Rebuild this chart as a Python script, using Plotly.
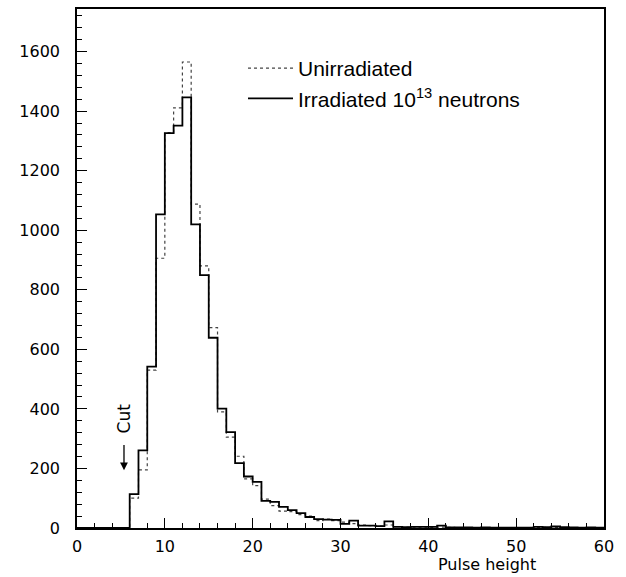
import plotly.graph_objects as go

# bin lower edges (width 1) from 0 to 59
bin_edges = list(range(0, 61))

irradiated = [0, 0, 0, 0, 0, 0, 114, 261, 542, 1053,
              1326, 1351, 1446, 1020, 849, 639, 401, 322, 218, 173,
              155, 91, 88, 71, 60, 50, 37, 30, 28, 27,
              14, 25, 8, 8, 6, 22, 4, 3, 4, 4,
              4, 8, 2, 2, 2, 1, 2, 1, 1, 1,
              1, 1, 4, 3, 5, 3, 2, 1, 2, 1]

unirradiated = [0, 0, 0, 0, 0, 0, 100, 195, 530, 906,
                1328, 1411, 1565, 1088, 880, 673, 390, 305, 241, 165,
                142, 97, 75, 57, 55, 45, 40, 25, 30, 25,
                20, 15, 10, 8, 6, 10, 5, 3, 3, 3,
                2, 3, 2, 1, 1, 1, 1, 1, 1, 1,
                1, 1, 2, 2, 2, 1, 1, 1, 1, 1]

x_ticks = [0, 10, 20, 30, 40, 50, 60]
y_ticks = [0, 200, 400, 600, 800, 1000, 1200, 1400, 1600]

FONT = "Liberation Sans, Arial, sans-serif"
TICKFONT = "DejaVu Sans, sans-serif"

fig = go.Figure()
fig.add_trace(go.Scatter(
    x=bin_edges, y=unirradiated + [unirradiated[-1]],
    mode="lines", line=dict(shape="hv", color="#444444", width=1.2, dash="dot"),
    name="Unirradiated"))
fig.add_trace(go.Scatter(
    x=bin_edges, y=irradiated + [irradiated[-1]],
    mode="lines", line=dict(shape="hv", color="black", width=1.8),
    name="Irradiated 10<sup>13</sup> neutrons"))

fig.update_layout(
    width=626, height=577,
    margin=dict(l=77, r=22, t=7, b=49),
    paper_bgcolor="white", plot_bgcolor="white",
    font=dict(family=FONT, color="black", size=15),
    showlegend=True,
    legend=dict(x=0.315, y=0.925, xanchor="left", yanchor="top",
                bgcolor="rgba(0,0,0,0)", borderwidth=0, itemwidth=45,
                font=dict(size=21, family=FONT), tracegroupgap=0),
    xaxis=dict(range=[0, 60], tickvals=x_ticks, ticks="inside", ticklen=10,
               tickwidth=1.3, tickcolor="black", showline=True, linecolor="black",
               linewidth=1.5, mirror=True, showgrid=False, zeroline=False,
               tickfont=dict(size=16, family=TICKFONT), ticklabelstandoff=3,
               minor=dict(dtick=2, ticks="inside", ticklen=5, tickcolor="black", showgrid=False)),
    yaxis=dict(range=[0, 1743], tickvals=y_ticks, ticks="inside", ticklen=10,
               tickwidth=1.3, tickcolor="black", showline=True, linecolor="black",
               linewidth=1.5, mirror=True, showgrid=False, zeroline=False,
               tickfont=dict(size=16, family=TICKFONT), ticklabelstandoff=12,
               minor=dict(dtick=40, ticks="inside", ticklen=5, tickcolor="black", showgrid=False)),
)

fig.add_annotation(text="Pulse height", xref="paper", yref="paper",
                   x=0.778, y=-0.071, showarrow=False,
                   font=dict(size=16, family=TICKFONT),
                   xanchor="center", yanchor="middle")
fig.add_annotation(text="Cut", xref="x", yref="y", axref="x", ayref="y",
                   x=5.35, y=194, ax=5.35, ay=368,
                   textangle=-90, showarrow=True, arrowhead=2, arrowsize=1.2,
                   arrowwidth=1.3, arrowcolor="black", startstandoff=10,
                   font=dict(size=17, family=TICKFONT))

fig.write_html("out.html")
